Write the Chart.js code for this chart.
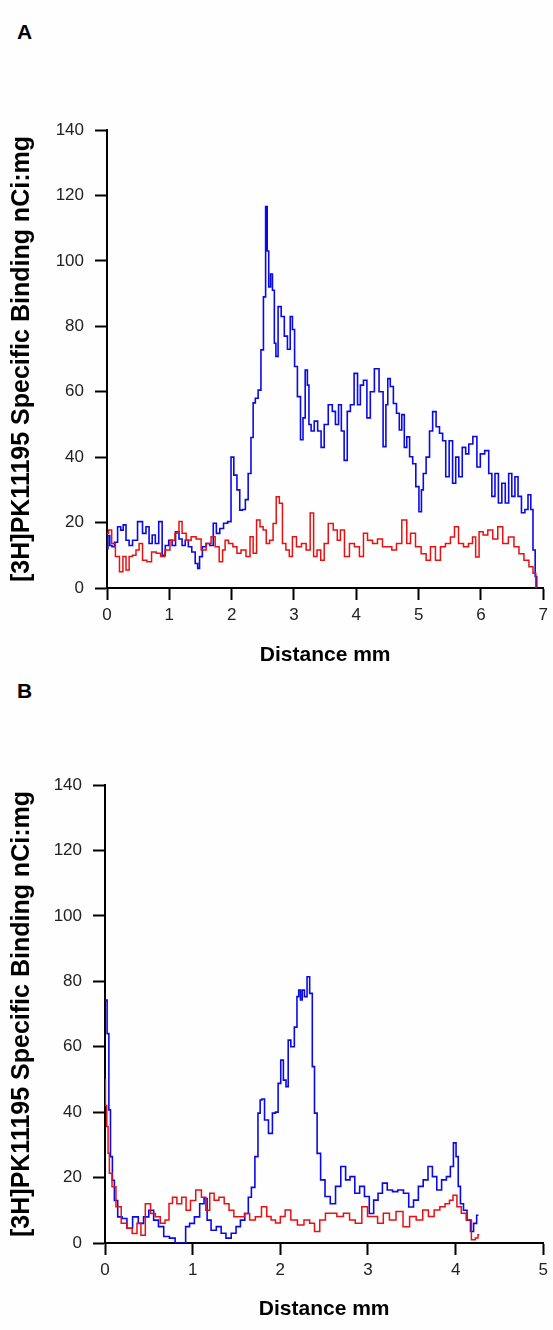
<!DOCTYPE html>
<html>
<head>
<meta charset="utf-8">
<script src="https://cdn.jsdelivr.net/npm/chart.js@4.4.1/dist/chart.umd.min.js"></script>
<style>
  html, body { margin: 0; padding: 0; background: #ffffff; }
  #page { position: relative; width: 553px; height: 1330px; overflow: hidden; background: #fefefe; }
  canvas { position: absolute; left: 0; }
  .panel { position: absolute; left: 17px; font: bold 21px "Liberation Sans", Arial, sans-serif; color: #000; }
</style>
</head>
<body>
<div id="page">
  <div class="panel" style="top:20px">A</div>
  <canvas id="chartA" width="553" height="665" style="top:0"></canvas>
  <div class="panel" style="top:679px">B</div>
  <canvas id="chartB" width="553" height="665" style="top:665px"></canvas>
</div>
<script>
// ---------- Data ----------
const yTicks = [0, 20, 40, 60, 80, 100, 120, 140];
const xTicksA = [0, 1, 2, 3, 4, 5, 6, 7];
const xTicksB = [0, 1, 2, 3, 4, 5];

// Panel A, blue trace
const blueA_x = [0,0.03,0.06,0.1,0.14,0.2,0.24,0.28,0.33,0.38,
  0.44,0.54,0.6,0.65,0.7,0.75,0.8,0.86,0.91,0.96,
  1.02,1.07,1.13,1.18,1.23,1.28,1.33,1.39,1.44,1.47,
  1.5,1.56,1.62,1.68,1.73,1.78,1.84,1.9,1.97,2.01,
  2.06,2.11,2.15,2.2,2.24,2.29,2.33,2.36,2.4,2.45,
  2.49,2.53,2.56,2.58,2.61,2.64,2.67,2.7,2.72,2.77,
  2.82,2.87,2.92,2.96,2.99,3.03,3.08,3.13,3.16,3.2,
  3.23,3.25,3.3,3.35,3.41,3.46,3.51,3.59,3.64,3.69,
  3.74,3.78,3.83,3.88,3.93,4.0,4.04,4.09,4.14,4.2,
  4.25,4.33,4.4,4.46,4.49,4.52,4.57,4.62,4.67,4.71,
  4.75,4.79,4.83,4.88,4.93,4.98,5.03,5.06,5.09,5.15,
  5.2,5.25,5.31,5.36,5.41,5.46,5.52,5.57,5.62,5.67,
  5.73,5.78,5.83,5.91,5.96,6.02,6.1,6.15,6.2,6.25,
  6.31,6.36,6.42,6.47,6.52,6.57,6.62,6.68,6.73,6.78,
  6.82,6.85,6.89,6.9];
const blueA_y = [12,16,13,12.6,14,18.7,17.7,19.3,14.6,13,
  14.6,20.3,16.7,18.7,13.6,16.2,13.6,20.3,10,13,
  14.6,13,17.2,15,13,14.6,12.6,11,7.5,6,
  9.6,12.6,13.6,13,19.8,16.7,18.2,19.8,20.3,40,
  34.5,30,23.8,24,27,35,46,56.6,58,60.5,
  72.8,89,116.6,103,92,96,91,74.8,70.8,86,
  83,77,73,83,79,67.7,58.5,45.3,52,66.6,
  62,50,48,51,48,43,50,56,54,50,
  56,48,39,54,56,65.6,56,62,63.5,52,
  60,67,60,43.2,56,64,61.6,56.4,53.4,48.3,
  53,43,46.2,40.1,38,31,23.3,30,35,40,
  48,53.9,49.3,47.3,45,34,45,32,40,34,
  43,41,44,46.3,37,41,42,35,28,35,
  26,32,26,35,28,34,28,23,24,28.5,
  24,11.6,3.5,0];

// Panel A, red trace
const redA_x = [0,0.05,0.1,0.17,0.23,0.28,0.33,0.38,0.44,0.49,
  0.54,0.6,0.68,0.75,0.83,0.89,0.97,1.05,1.13,1.18,
  1.23,1.31,1.39,1.47,1.55,1.63,1.71,1.76,1.84,1.87,
  1.92,1.98,2.06,2.11,2.19,2.27,2.32,2.37,2.43,2.48,
  2.53,2.58,2.64,2.69,2.74,2.79,2.84,2.9,2.95,3.0,
  3.08,3.16,3.23,3.29,3.34,3.4,3.46,3.51,3.59,3.67,
  3.72,3.77,3.85,3.93,4.01,4.09,4.14,4.22,4.3,4.38,
  4.46,4.52,4.62,4.67,4.79,4.83,4.91,4.99,5.09,5.15,
  5.23,5.31,5.39,5.47,5.55,5.6,5.68,5.76,5.84,5.89,
  5.94,6.0,6.07,6.15,6.23,6.31,6.39,6.49,6.57,6.65,
  6.73,6.81,6.86,6.9];
const redA_y = [16.7,17.7,13.6,9.6,5,9.6,5.5,9.6,10,11.6,
  13.6,8.5,8,11,10.6,9.6,11.6,14.6,16.7,20.3,
  16.7,14.6,15.7,15,11.6,13.6,15.7,12.6,8,11.6,
  14.6,13.6,12.6,10.6,11.6,9.6,15.7,10.6,20.8,18.7,
  17.7,13.6,14.6,19.7,27.9,25.9,13.6,11.6,9.6,15.7,
  12.6,13.6,11.6,22.9,9.6,11.6,8.5,13.6,19.7,17.7,
  14.6,17.7,9.6,13.6,12.6,9.6,16.7,14.6,13.6,15,
  12.6,12.6,11.6,13.6,20.8,13.6,16.7,12.6,10.5,8.5,
  12.6,8.5,12.6,13.6,15.6,18.7,13.6,12.6,13.6,15.6,
  9.5,17.2,16.2,17.7,15,18.7,13.6,15.6,12.6,10.5,
  8.5,6.5,4.5,0];

// Panel B, blue trace
const blueB_x = [0,0.01,0.038,0.05,0.075,0.094,0.12,0.17,0.22,0.28,
  0.35,0.41,0.47,0.53,0.58,0.64,0.70,0.77,0.83,0.90,
  0.94,0.99,1.05,1.11,1.15,1.18,1.24,1.30,1.35,1.41,
  1.47,1.52,1.57,1.62,1.65,1.69,1.73,1.76,1.78,1.80,
  1.84,1.89,1.93,1.96,1.99,2.02,2.05,2.08,2.10,2.14,
  2.18,2.20,2.22,2.24,2.26,2.29,2.32,2.35,2.38,2.40,
  2.44,2.48,2.54,2.60,2.66,2.72,2.77,2.82,2.88,2.93,
  2.99,3.04,3.09,3.14,3.19,3.25,3.31,3.37,3.44,3.49,
  3.55,3.60,3.66,3.71,3.76,3.81,3.87,3.92,3.96,3.99,
  4.02,4.04,4.07,4.11,4.15,4.19,4.22,4.26];
const blueB_y = [74,74.3,64,40.7,26.4,19.2,13,8,7.5,4.5,
  8,6,8,10,7,5,2,1.5,0,0,
  5,6,8,12,13.6,7,3.9,5,3,1.5,
  3,5,7,9,14,17,26.4,39.7,43.7,44,
  37.6,33.5,39.7,40,48.8,55.9,49.8,47.8,62,60,
  66,75.3,77.3,74.3,77.3,75.3,81.4,76.3,53.9,39.7,
  27.4,19.3,14.2,12,17.3,23.4,19.3,20.3,15.2,17.3,
  14.2,9,13.1,15.2,18.3,16.2,15.7,16.2,15.2,11,
  13.1,17.3,19.3,23.4,20.3,16.2,19.3,20.3,23.4,30.6,
  26.4,17.3,12,10,7,3.5,6,8.5];

// Panel B, red trace
const redB_x = [0,0.01,0.03,0.04,0.06,0.1,0.15,0.22,0.28,0.34,
  0.39,0.43,0.49,0.55,0.6,0.66,0.71,0.75,0.79,0.85,
  0.9,0.95,1.0,1.07,1.13,1.17,1.22,1.27,1.33,1.39,
  1.44,1.50,1.56,1.62,1.68,1.75,1.82,1.87,1.92,1.97,
  2.03,2.08,2.16,2.23,2.31,2.36,2.42,2.48,2.55,2.61,
  2.68,2.76,2.82,2.89,2.97,3.02,3.08,3.14,3.21,3.28,
  3.36,3.44,3.51,3.59,3.66,3.72,3.79,3.85,3.91,3.95,
  3.99,4.04,4.09,4.15,4.21,4.24,4.27];
const redB_y = [50,42,35.6,27.4,21.3,17.2,11.1,6,4.5,2.9,
  6,2.4,12,9,8,6,7,12.1,14,12,
  14,10,13,16.2,14,10,15.2,13.1,14,12,
  10,8,8,9,7,8,11.1,8.1,7,6.1,
  8.1,10.1,7,5.5,7,6,3.5,7,9.1,9.1,
  8.1,9.1,7,6,11.1,8.1,8.1,6,9.1,7,
  9.6,5,8.1,7,10.1,8.1,10.1,11.1,12,13.1,
  14.6,11.1,9.1,7,1,1.5,2.5];

const xTitle = 'Distance mm';
const yTitle = '[3H]PK11195 Specific Binding nCi:mg';

// ---------- Chart construction ----------
const FONT = '"Liberation Sans", Arial, sans-serif';
function pts(xs, ys) { return xs.map((x, i) => ({ x: x, y: ys[i] })); }

function makeChart(id, xTicks, blue, red, L) {
  const xMax = xTicks[xTicks.length - 1];
  const yMax = yTicks[yTicks.length - 1];
  return new Chart(document.getElementById(id), {
    type: 'line',
    data: {
      datasets: [
        { data: red,  borderColor: '#e81010', borderWidth: 1.5, pointRadius: 0, stepped: 'middle', fill: false },
        { data: blue, borderColor: '#0a0ae6', borderWidth: 1.6, pointRadius: 0, stepped: 'middle', fill: false }
      ]
    },
    options: {
      responsive: false,
      animation: false,
      devicePixelRatio: 1,
      layout: { padding: { top: L.top, right: L.right, left: 0, bottom: 0 } },
      plugins: { legend: { display: false }, tooltip: { enabled: false } },
      scales: {
        x: {
          type: 'linear', min: 0, max: xMax,
          afterBuildTicks: (s) => { s.ticks = xTicks.map(v => ({ value: v })); },
          ticks: { padding: L.xTickPad, color: '#222', font: { family: FONT, size: 17 }, maxRotation: 0, autoSkip: false },
          grid: { display: true, drawOnChartArea: false, drawTicks: true, tickLength: 12, tickWidth: 2, tickColor: '#000' },
          border: { display: true, color: '#000', width: 2 },
          title: { display: true, text: xTitle, color: '#000', font: { family: FONT, size: 21, weight: 'bold', lineHeight: 1 }, padding: { top: 0, bottom: L.xTitleBottom } },
          afterFit: (s) => { s.height = L.xH; }
        },
        y: {
          type: 'linear', min: 0, max: yMax,
          afterBuildTicks: (s) => { s.ticks = yTicks.map(v => ({ value: v })); },
          ticks: { padding: 11, color: '#222', font: { family: FONT, size: 17 } },
          grid: { display: true, drawOnChartArea: false, drawTicks: true, tickLength: 12, tickWidth: 2, tickColor: '#000' },
          border: { display: true, color: '#000', width: 2 },
          title: { display: true, text: yTitle, color: '#000', font: { family: FONT, size: 25, weight: 'bold', lineHeight: 1 }, padding: { top: 10, bottom: 0 } },
          afterFit: (s) => { s.width = L.yW; }
        }
      }
    }
  });
}

makeChart('chartA', xTicksA, pts(blueA_x, blueA_y), pts(redA_x, redA_y),
  { top: 130, right: 4, xH: 77, yW: 107, xTickPad: 5, xTitleBottom: -1 });
makeChart('chartB', xTicksB, pts(blueB_x, blueB_y), pts(redB_x, redB_y),
  { top: 120, right: 5, xH: 87, yW: 105, xTickPad: 5, xTitleBottom: 10 });
</script>
</body>
</html>
